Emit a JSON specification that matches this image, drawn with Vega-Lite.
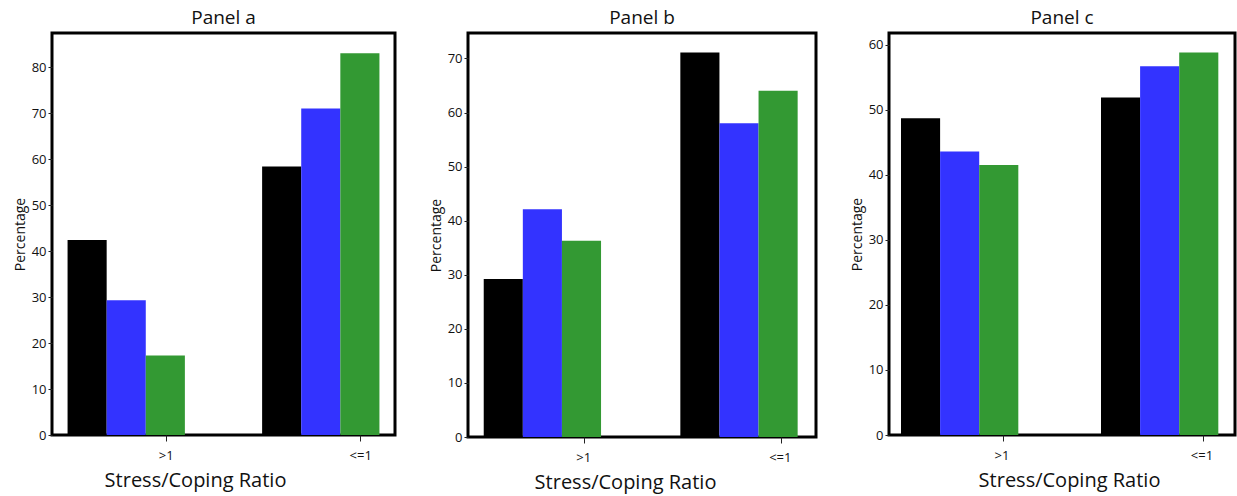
{
  "$schema": "https://vega.github.io/schema/vega-lite/v6.json",
  "background": "white",
  "padding": {"left": 11, "top": 7, "right": 0, "bottom": 0},
  "bounds": "flush",
  "spacing": 73,
  "data": {"values": [
    {"panel": "a", "ratio": ">1", "group": "G1", "value": 42.4},
    {"panel": "a", "ratio": ">1", "group": "G2", "value": 29.3},
    {"panel": "a", "ratio": ">1", "group": "G3", "value": 17.3},
    {"panel": "a", "ratio": "<=1", "group": "G1", "value": 58.4},
    {"panel": "a", "ratio": "<=1", "group": "G2", "value": 71.0},
    {"panel": "a", "ratio": "<=1", "group": "G3", "value": 83.0},
    {"panel": "b", "ratio": ">1", "group": "G1", "value": 29.2},
    {"panel": "b", "ratio": ">1", "group": "G2", "value": 42.1},
    {"panel": "b", "ratio": ">1", "group": "G3", "value": 36.3},
    {"panel": "b", "ratio": "<=1", "group": "G1", "value": 71.1},
    {"panel": "b", "ratio": "<=1", "group": "G2", "value": 58.0},
    {"panel": "b", "ratio": "<=1", "group": "G3", "value": 64.0},
    {"panel": "c", "ratio": ">1", "group": "G1", "value": 48.7},
    {"panel": "c", "ratio": ">1", "group": "G2", "value": 43.6},
    {"panel": "c", "ratio": ">1", "group": "G3", "value": 41.5},
    {"panel": "c", "ratio": "<=1", "group": "G1", "value": 51.9},
    {"panel": "c", "ratio": "<=1", "group": "G2", "value": 56.7},
    {"panel": "c", "ratio": "<=1", "group": "G3", "value": 58.8}
  ]},
  "config": {
    "font": "Open Sans",
    "view": {"stroke": "black", "strokeWidth": 3},
    "title": {"fontSize": 19, "fontWeight": "normal", "color": "#111", "offset": 5},
    "axis": {"grid": false, "domain": false, "tickColor": "#222", "labelColor": "#111", "titleColor": "#111", "titleFontWeight": "normal"},
    "axisY": {"labelFontSize": 13, "tickSize": 4, "labelPadding": 2, "titleFontSize": 14, "titlePadding": 4},
    "axisX": {"labelFontSize": 13, "tickSize": 6, "labelPadding": 8, "titleFontSize": 20, "titlePadding": 8, "labelAngle": 0},
    "bar": {"stroke": null}
  },
  "hconcat": [
    {
      "title": "Panel a",
      "width": 343, "height": 402,
      "transform": [{"filter": "datum.panel === 'a'"}],
      "mark": "bar",
      "encoding": {
        "x": {"field": "ratio", "type": "nominal", "sort": [">1", "<=1"], "title": "Stress/Coping Ratio",
              "scale": {"paddingInner": 0.397, "paddingOuter": 0.08},
              "axis": {"bandPosition": 0.84, "labelOffset": 40, "titleX": 143}},
        "xOffset": {"field": "group", "type": "nominal", "sort": ["G1", "G2", "G3"], "scale": {"paddingInner": 0, "paddingOuter": 0}},
        "y": {"field": "value", "type": "quantitative", "title": "Percentage",
              "scale": {"domain": [0, 87.4], "nice": false}, "axis": {"values": [0, 10, 20, 30, 40, 50, 60, 70, 80]}},
        "color": {"field": "group", "type": "nominal", "legend": null,
                  "scale": {"domain": ["G1", "G2", "G3"], "range": ["#000000", "#3333ff", "#339933"]}}
      }
    },
    {
      "title": "Panel b",
      "width": 348, "height": 404,
      "transform": [{"filter": "datum.panel === 'b'"}],
      "mark": "bar",
      "encoding": {
        "x": {"field": "ratio", "type": "nominal", "sort": [">1", "<=1"], "title": "Stress/Coping Ratio",
              "scale": {"paddingInner": 0.39, "paddingOuter": 0.08},
              "axis": {"bandPosition": 0.84, "labelOffset": 40, "titleX": 157}},
        "xOffset": {"field": "group", "type": "nominal", "sort": ["G1", "G2", "G3"], "scale": {"paddingInner": 0, "paddingOuter": 0}},
        "y": {"field": "value", "type": "quantitative", "title": "Percentage",
              "scale": {"domain": [0, 74.7], "nice": false}, "axis": {"values": [0, 10, 20, 30, 40, 50, 60, 70]}},
        "color": {"field": "group", "type": "nominal", "legend": null,
                  "scale": {"domain": ["G1", "G2", "G3"], "range": ["#000000", "#3333ff", "#339933"]}}
      }
    },
    {
      "title": "Panel c",
      "width": 346, "height": 402,
      "transform": [{"filter": "datum.panel === 'c'"}],
      "mark": "bar",
      "encoding": {
        "x": {"field": "ratio", "type": "nominal", "sort": [">1", "<=1"], "title": "Stress/Coping Ratio",
              "scale": {"paddingInner": 0.39, "paddingOuter": 0.06},
              "axis": {"bandPosition": 0.84, "labelOffset": 40, "titleX": 180}},
        "xOffset": {"field": "group", "type": "nominal", "sort": ["G1", "G2", "G3"], "scale": {"paddingInner": 0, "paddingOuter": 0}},
        "y": {"field": "value", "type": "quantitative", "title": "Percentage",
              "scale": {"domain": [0, 61.8], "nice": false}, "axis": {"values": [0, 10, 20, 30, 40, 50, 60]}},
        "color": {"field": "group", "type": "nominal", "legend": null,
                  "scale": {"domain": ["G1", "G2", "G3"], "range": ["#000000", "#3333ff", "#339933"]}}
      }
    }
  ],
  "resolve": {"scale": {"color": "shared"}}
}
